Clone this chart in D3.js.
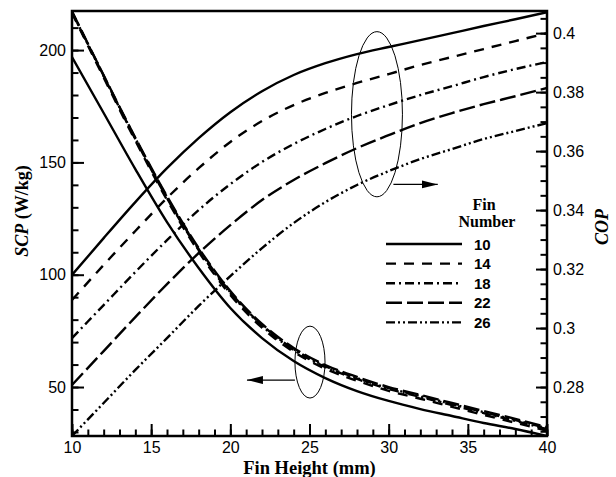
<!DOCTYPE html>
<html>
<head>
<meta charset="utf-8">
<script src="https://cdn.jsdelivr.net/npm/d3@7"></script>
<style>
body { margin: 0; background: #fff; }
.tick text { font-family: "Liberation Sans", Arial, sans-serif; font-size: 16px; fill: #000; }
</style>
</head>
<body>
<svg id="chart" width="616" height="477"></svg>
<script>
// fin height (mm)
var finHeight = [10, 12, 14, 16, 18, 20, 22, 24, 26, 28, 30, 32, 34, 36, 38, 40];
var finNumbers = ["10", "14", "18", "22", "26"];

// COP, right axis
var cop10 = [0.3180, 0.3305, 0.3427, 0.3542, 0.3644, 0.3732, 0.3803, 0.3858, 0.3898, 0.3929, 0.3953, 0.3976, 0.4000, 0.4024, 0.4047, 0.4071];
var cop14 = [0.3095, 0.3214, 0.3329, 0.3441, 0.3542, 0.3631, 0.3702, 0.3756, 0.3797, 0.3831, 0.3861, 0.3892, 0.3919, 0.3946, 0.3973, 0.4000];
var cop18 = [0.2966, 0.3078, 0.3190, 0.3298, 0.3400, 0.3488, 0.3563, 0.3624, 0.3675, 0.3719, 0.3756, 0.3790, 0.3820, 0.3851, 0.3878, 0.3902];
var cop22 = [0.2807, 0.2922, 0.3037, 0.3149, 0.3254, 0.3349, 0.3434, 0.3502, 0.3559, 0.3610, 0.3654, 0.3695, 0.3729, 0.3759, 0.3786, 0.3814];
var cop26 = [0.2634, 0.2746, 0.2858, 0.2966, 0.3075, 0.3176, 0.3271, 0.3356, 0.3427, 0.3485, 0.3532, 0.3573, 0.3607, 0.3641, 0.3668, 0.3695];

// SCP (W/kg), left axis
var scp10 = [196.9, 172.0, 147.0, 123.4, 103.0, 85.2, 71.8, 61.6, 54.0, 48.2, 43.8, 40.2, 37.1, 34.0, 31.3, 28.2];
var scp14 = [216.5, 187.8, 159.7, 133.3, 110.2, 91.0, 76.4, 65.7, 58.1, 52.8, 48.3, 44.8, 41.2, 37.6, 34.1, 30.5];
var scp18 = [216.9, 188.4, 160.4, 134.1, 111.0, 91.8, 77.2, 66.5, 58.9, 53.6, 49.1, 45.6, 42.0, 38.4, 34.9, 31.3];
var scp22 = [217.2, 188.8, 161.0, 134.9, 111.9, 92.7, 78.1, 67.4, 59.8, 54.5, 50.0, 46.5, 42.9, 39.3, 35.8, 32.2];
var scp26 = [217.0, 188.6, 160.7, 134.5, 111.4, 92.2, 77.6, 66.9, 59.3, 54.0, 49.5, 46.0, 42.4, 38.8, 35.3, 31.7];

var copSeries = [cop10, cop14, cop18, cop22, cop26];
var scpSeries = [scp10, scp14, scp18, scp22, scp26];

var dashes = ["none", "10,8", "9,4,2,4", "16,5", "9,3,2,3,2,3"];

let svgWidth = 616
let svgHeight = 477
let margin = {top: 11, right: 69, bottom: 41, left: 72}
var width = svgWidth - margin.left - margin.right
var height = svgHeight - margin.top - margin.bottom

var svg = d3.select("#chart")
var chart = svg.append("g")
    .attr("transform", "translate(" + margin.left + "," + margin.top + ")");

var xScale = d3.scaleLinear().domain([10, 40]).range([0, width]);
var yLeft = d3.scaleLinear().domain([28.2, 217.4]).range([height, 0]);
var yRight = d3.scaleLinear().domain([0.2634, 0.4075]).range([height, 0]);

svg.append("defs").append("clipPath").attr("id", "plot")
    .append("rect").attr("width", width).attr("height", height);

// minor ticks first, then major ticks with labels (all pointing inside)
chart.append("g")
    .attr("transform", "translate(0," + height + ")")
    .call(d3.axisBottom(xScale).tickValues(d3.range(10, 41, 1)).tickSizeInner(-6.5).tickSizeOuter(0).tickFormat(""))
chart.append("g")
    .attr("transform", "translate(0," + height + ")")
    .call(d3.axisBottom(xScale).tickValues(d3.range(10, 41, 5)).tickSizeInner(-12).tickSizeOuter(0).tickPadding(6))

chart.append("g")
    .call(d3.axisLeft(yLeft).tickValues(d3.range(30, 211, 10)).tickSizeInner(-6.5).tickSizeOuter(0).tickFormat(""))
chart.append("g")
    .call(d3.axisLeft(yLeft).tickValues([50, 100, 150, 200]).tickSizeInner(-12).tickSizeOuter(0).tickPadding(6))

chart.append("g")
    .attr("transform", "translate(" + width + ",0)")
    .call(d3.axisRight(yRight).tickValues(d3.range(0.265, 0.406, 0.005)).tickSizeInner(-6.5).tickSizeOuter(0).tickFormat(""))
chart.append("g")
    .attr("transform", "translate(" + width + ",0)")
    .call(d3.axisRight(yRight).tickValues([0.28, 0.3, 0.32, 0.34, 0.36, 0.38, 0.4]).tickSizeInner(-11).tickSizeOuter(0).tickPadding(6)
        .tickFormat(function(d) { return +d.toFixed(2); }))

chart.selectAll(".domain").remove();
chart.selectAll(".tick line").attr("stroke", "#000").attr("stroke-width", 2);

// curves
var copLine = d3.line().curve(d3.curveMonotoneX)
    .x(function(d, i) { return xScale(finHeight[i]); })
    .y(function(d) { return yRight(d); });
var scpLine = d3.line().curve(d3.curveMonotoneX)
    .x(function(d, i) { return xScale(finHeight[i]); })
    .y(function(d) { return yLeft(d); });

var curves = chart.append("g").attr("clip-path", "url(#plot)")
    .attr("fill", "none").attr("stroke", "#000").attr("stroke-width", 2.4);

curves.selectAll("path.scp").data(scpSeries).enter()
    .append("path")
    .attr("class", "scp")
    .attr("d", scpLine)
    .attr("stroke-dasharray", function(d, i) { return dashes[i]; });

curves.selectAll("path.cop").data(copSeries).enter()
    .append("path")
    .attr("class", "cop")
    .attr("d", copLine)
    .attr("stroke-dasharray", function(d, i) { return dashes[i]; });

// frame
chart.append("rect")
    .attr("width", width).attr("height", height)
    .attr("fill", "none").attr("stroke", "#000").attr("stroke-width", 2.5);

// ellipses + arrows
var defs = svg.select("defs");
defs.append("marker").attr("id", "head")
    .attr("markerUnits", "userSpaceOnUse")
    .attr("markerWidth", 18).attr("markerHeight", 10)
    .attr("refX", 16).attr("refY", 4)
    .attr("orient", "auto")
    .append("path").attr("d", "M0,0L16,4L0,8Z").attr("fill", "#000");

chart.append("ellipse")
    .attr("cx", xScale(29.26)).attr("cy", yRight(0.3725))
    .attr("rx", xScale(29.26) - xScale(27.65))
    .attr("ry", yRight(0.3445) - yRight(0.3725))
    .attr("fill", "none").attr("stroke", "#000").attr("stroke-width", 1);
chart.append("line")
    .attr("x1", xScale(30.3)).attr("x2", xScale(33.1))
    .attr("y1", yRight(0.3487)).attr("y2", yRight(0.3487))
    .attr("stroke", "#000").attr("stroke-width", 1.2)
    .attr("marker-end", "url(#head)");

chart.append("ellipse")
    .attr("cx", xScale(25.03)).attr("cy", yLeft(61.1))
    .attr("rx", xScale(25.03) - xScale(24.08))
    .attr("ry", yLeft(45.1) - yLeft(61.1))
    .attr("fill", "none").attr("stroke", "#000").attr("stroke-width", 1);
chart.append("line")
    .attr("x1", xScale(24.08)).attr("x2", xScale(21.05))
    .attr("y1", yLeft(53.1)).attr("y2", yLeft(53.1))
    .attr("stroke", "#000").attr("stroke-width", 1.2)
    .attr("marker-end", "url(#head)");

// axis titles
svg.append("text")
    .attr("x", margin.left + width / 2).attr("y", 474)
    .attr("text-anchor", "middle")
    .style("font-family", "'Liberation Serif', 'Times New Roman', serif")
    .style("font-weight", "bold").style("font-size", "18.5px")
    .text("Fin Height (mm)");

var leftTitle = svg.append("text")
    .attr("transform", "translate(28,211) rotate(-90)")
    .attr("text-anchor", "middle")
    .style("font-family", "'Liberation Serif', 'Times New Roman', serif")
    .style("font-weight", "bold").style("font-size", "18px");
leftTitle.append("tspan").style("font-style", "italic").text("SCP");
leftTitle.append("tspan").text(" (W/kg)");

svg.append("text")
    .attr("transform", "translate(608,227) rotate(-90)")
    .attr("text-anchor", "middle")
    .style("font-family", "'Liberation Serif', 'Times New Roman', serif")
    .style("font-weight", "bold").style("font-style", "italic").style("font-size", "18px")
    .text("COP");

// legend
var legend = svg.append("g").attr("transform", "translate(386,244)");
legend.append("text")
    .attr("x", 98).attr("y", -34).attr("text-anchor", "middle")
    .style("font-family", "'Liberation Serif', 'Times New Roman', serif")
    .style("font-weight", "bold").style("font-size", "16px")
    .text("Fin");
legend.append("text")
    .attr("x", 101).attr("y", -17).attr("text-anchor", "middle")
    .style("font-family", "'Liberation Serif', 'Times New Roman', serif")
    .style("font-weight", "bold").style("font-size", "16px")
    .text("Number");

var rows = legend.selectAll("g.row").data(finNumbers).enter()
    .append("g").attr("class", "row")
    .attr("transform", function(d, i) { return "translate(0," + (i * 19.6) + ")"; });
rows.append("line")
    .attr("x1", 0).attr("x2", 76)
    .attr("stroke", "#000").attr("stroke-width", 2.4)
    .attr("stroke-dasharray", function(d, i) { return dashes[i]; });
rows.append("text")
    .attr("x", 88).attr("y", 5.5)
    .style("font-family", "'Liberation Sans', Arial, sans-serif")
    .style("font-weight", "bold").style("font-size", "15px")
    .text(function(d) { return d; });
</script>
</body>
</html>
